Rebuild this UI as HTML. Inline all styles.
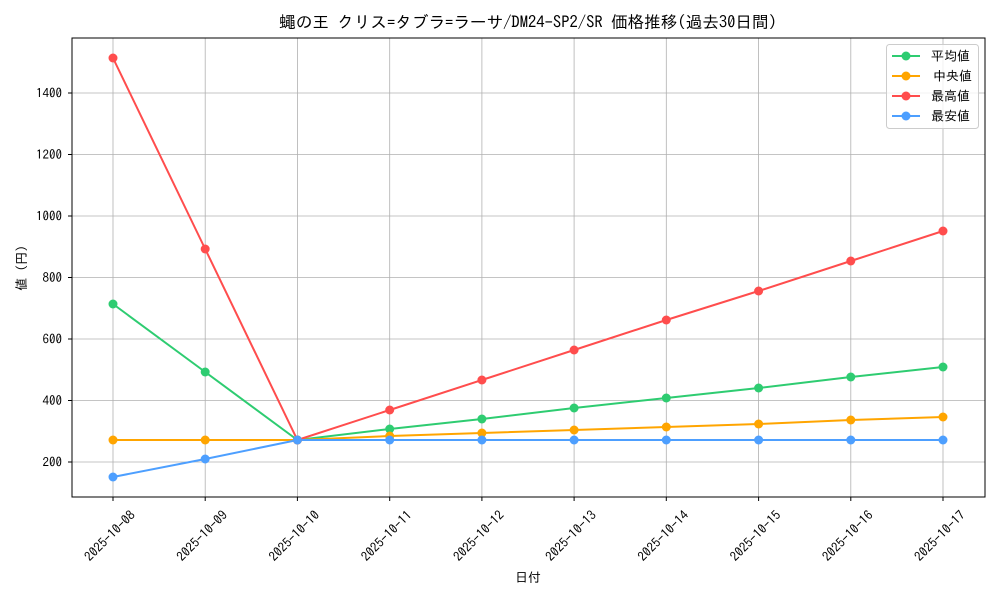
<!DOCTYPE html>
<html><head><meta charset="utf-8"><style>body{margin:0;background:#fff}</style></head><body>
<svg width="1000" height="600" xmlns="http://www.w3.org/2000/svg" font-family="IPAGothic, 'Noto Sans CJK JP', monospace" font-size="13">
<rect width="1000" height="600" fill="#fff"/>
<text x="528" y="28" text-anchor="middle" font-size="16.6">蠅の王 クリス=タブラ=ラーサ/DM24-SP2/SR 価格推移(過去30日間)</text>
<g stroke="#b0b0b0" stroke-width="0.8">
<line x1="113" y1="38" x2="113" y2="497"/><line x1="205.2" y1="38" x2="205.2" y2="497"/><line x1="297.4" y1="38" x2="297.4" y2="497"/><line x1="389.7" y1="38" x2="389.7" y2="497"/><line x1="481.9" y1="38" x2="481.9" y2="497"/><line x1="574.1" y1="38" x2="574.1" y2="497"/><line x1="666.3" y1="38" x2="666.3" y2="497"/><line x1="758.6" y1="38" x2="758.6" y2="497"/><line x1="850.8" y1="38" x2="850.8" y2="497"/><line x1="943" y1="38" x2="943" y2="497"/>
<line x1="72" y1="462" x2="985" y2="462"/><line x1="72" y1="400.5" x2="985" y2="400.5"/><line x1="72" y1="339" x2="985" y2="339"/><line x1="72" y1="277.5" x2="985" y2="277.5"/><line x1="72" y1="216" x2="985" y2="216"/><line x1="72" y1="154.5" x2="985" y2="154.5"/><line x1="72" y1="93" x2="985" y2="93"/>
</g>
<rect x="72" y="38" width="913" height="459" fill="none" stroke="#000" stroke-width="1"/>
<g text-anchor="end">
<text x="62" y="466.5">200</text><text x="62" y="405">400</text><text x="62" y="343.5">600</text><text x="62" y="282">800</text><text x="62" y="220.5">1000</text><text x="62" y="159">1200</text><text x="62" y="97.5">1400</text>
</g>
<g stroke="#000"><line x1="68" y1="462" x2="72" y2="462"/><line x1="68" y1="400.5" x2="72" y2="400.5"/><line x1="68" y1="339" x2="72" y2="339"/><line x1="68" y1="277.5" x2="72" y2="277.5"/><line x1="68" y1="216" x2="72" y2="216"/><line x1="68" y1="154.5" x2="72" y2="154.5"/><line x1="68" y1="93" x2="72" y2="93"/>
<line x1="113" y1="497" x2="113" y2="501"/><line x1="205.2" y1="497" x2="205.2" y2="501"/><line x1="297.4" y1="497" x2="297.4" y2="501"/><line x1="389.7" y1="497" x2="389.7" y2="501"/><line x1="481.9" y1="497" x2="481.9" y2="501"/><line x1="574.1" y1="497" x2="574.1" y2="501"/><line x1="666.3" y1="497" x2="666.3" y2="501"/><line x1="758.6" y1="497" x2="758.6" y2="501"/><line x1="850.8" y1="497" x2="850.8" y2="501"/><line x1="943" y1="497" x2="943" y2="501"/></g>
<g text-anchor="end">
<text transform="translate(136,516) rotate(-45)">2025-10-08</text>
<text transform="translate(228.2,516) rotate(-45)">2025-10-09</text>
<text transform="translate(320.4,516) rotate(-45)">2025-10-10</text>
<text transform="translate(412.7,516) rotate(-45)">2025-10-11</text>
<text transform="translate(504.9,516) rotate(-45)">2025-10-12</text>
<text transform="translate(597.1,516) rotate(-45)">2025-10-13</text>
<text transform="translate(689.3,516) rotate(-45)">2025-10-14</text>
<text transform="translate(781.6,516) rotate(-45)">2025-10-15</text>
<text transform="translate(873.8,516) rotate(-45)">2025-10-16</text>
<text transform="translate(966,516) rotate(-45)">2025-10-17</text>
</g>
<text x="528" y="582" text-anchor="middle">日付</text>
<text transform="translate(26,268) rotate(-90)" text-anchor="middle">値 (円)</text>
<g fill="none" stroke-width="2">
<polyline stroke="#2ecc71" points="113,304 205.2,372 297.4,440 389.7,429 481.9,419 574.1,408 666.3,398 758.6,388 850.8,377 943,367"/>
<polyline stroke="#ffa500" points="113,440 205.2,440 297.4,440 389.7,436 481.9,433 574.1,430 666.3,427 758.6,424 850.8,420 943,417"/>
<polyline stroke="#ff4d4d" points="113,58 205.2,249 297.4,440 389.7,410 481.9,380 574.1,350 666.3,320 758.6,291 850.8,261 943,231"/>
<polyline stroke="#4d9fff" points="113,477 205.2,459 297.4,440 389.7,440 481.9,440 574.1,440 666.3,440 758.6,440 850.8,440 943,440"/>
</g>
<g fill="#2ecc71"><circle cx="113" cy="304" r="4.5"/><circle cx="205.2" cy="372" r="4.5"/><circle cx="297.4" cy="440" r="4.5"/><circle cx="389.7" cy="429" r="4.5"/><circle cx="481.9" cy="419" r="4.5"/><circle cx="574.1" cy="408" r="4.5"/><circle cx="666.3" cy="398" r="4.5"/><circle cx="758.6" cy="388" r="4.5"/><circle cx="850.8" cy="377" r="4.5"/><circle cx="943" cy="367" r="4.5"/></g>
<g fill="#ffa500"><circle cx="113" cy="440" r="4.5"/><circle cx="205.2" cy="440" r="4.5"/><circle cx="297.4" cy="440" r="4.5"/><circle cx="389.7" cy="436" r="4.5"/><circle cx="481.9" cy="433" r="4.5"/><circle cx="574.1" cy="430" r="4.5"/><circle cx="666.3" cy="427" r="4.5"/><circle cx="758.6" cy="424" r="4.5"/><circle cx="850.8" cy="420" r="4.5"/><circle cx="943" cy="417" r="4.5"/></g>
<g fill="#ff4d4d"><circle cx="113" cy="58" r="4.5"/><circle cx="205.2" cy="249" r="4.5"/><circle cx="297.4" cy="440" r="4.5"/><circle cx="389.7" cy="410" r="4.5"/><circle cx="481.9" cy="380" r="4.5"/><circle cx="574.1" cy="350" r="4.5"/><circle cx="666.3" cy="320" r="4.5"/><circle cx="758.6" cy="291" r="4.5"/><circle cx="850.8" cy="261" r="4.5"/><circle cx="943" cy="231" r="4.5"/></g>
<g fill="#4d9fff"><circle cx="113" cy="477" r="4.5"/><circle cx="205.2" cy="459" r="4.5"/><circle cx="297.4" cy="440" r="4.5"/><circle cx="389.7" cy="440" r="4.5"/><circle cx="481.9" cy="440" r="4.5"/><circle cx="574.1" cy="440" r="4.5"/><circle cx="666.3" cy="440" r="4.5"/><circle cx="758.6" cy="440" r="4.5"/><circle cx="850.8" cy="440" r="4.5"/><circle cx="943" cy="440" r="4.5"/></g>
<rect x="886.5" y="44.5" width="92" height="84" rx="3" fill="#fff" fill-opacity="0.8" stroke="#ccc"/>
<g stroke-width="2">
<line x1="892" y1="56" x2="920" y2="56" stroke="#2ecc71"/><circle cx="906" cy="56" r="4.5" fill="#2ecc71"/>
<line x1="892" y1="76" x2="920" y2="76" stroke="#ffa500"/><circle cx="906" cy="76" r="4.5" fill="#ffa500"/>
<line x1="892" y1="96" x2="920" y2="96" stroke="#ff4d4d"/><circle cx="906" cy="96" r="4.5" fill="#ff4d4d"/>
<line x1="892" y1="116" x2="920" y2="116" stroke="#4d9fff"/><circle cx="906" cy="116" r="4.5" fill="#4d9fff"/>
</g>
<text x="931" y="60.5">平均値</text><text x="933" y="80.5">中央値</text><text x="931" y="100.5">最高値</text><text x="931" y="120.5">最安値</text>
</svg>
</body></html>
